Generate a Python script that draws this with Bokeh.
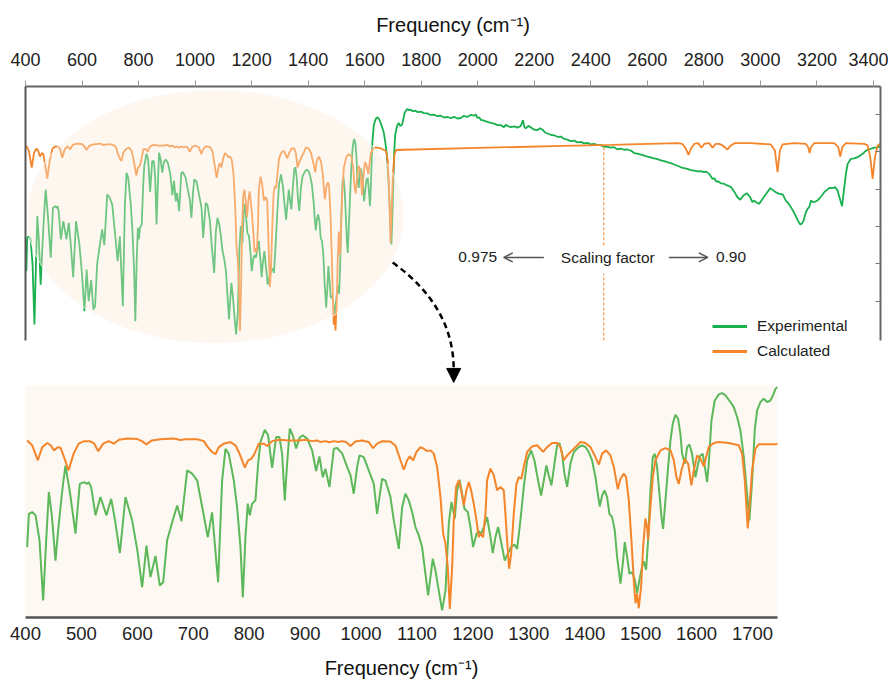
from bokeh.plotting import figure
from bokeh.models import (Range1d, LinearAxis, FixedTicker, Label, Legend, LegendItem,
                          Arrow, NormalHead, OpenHead)
from bokeh.layouts import column
from bokeh.embed import file_html
from bokeh.resources import INLINE

FONT = "Liberation Sans"
GREEN_TOP = "#19b04e"
GREEN_BOT = "#5cb85a"
ORANGE = "#f5852a"

# ---------------- data ----------------
exp_freq = [
    403, 406, 412, 418, 425, 431.6, 437, 441.8, 447, 453.6, 458, 462.6, 467, 471.5, 480, 489.4, 493,
    497.1, 504.3, 510.3, 513.2, 517.4, 525.2, 534, 544.8, 553.2, 560, 568.7, 578.8, 590.7, 600, 608.6,
    616.3, 623.5, 632.4, 640.2, 646.2, 653.3, 662.3, 671.2, 678.9, 689.1, 698, 707, 716, 726, 733.7,
    744.4, 751.6, 757.6, 763.5, 772.5, 778.4, 784.4, 788.6, 793.3, 797.5, 801.1, 805.2, 811.2, 816,
    820.1, 827.9, 833.8, 841, 848.2, 854.1, 858.9, 863.6, 867.8, 872.6, 878, 883.9, 889.9, 895.8,
    903.6, 912.5, 919.7, 925.6, 931.6, 936.4, 943.5, 951.3, 957.2, 966.2, 975.1, 981.1, 987, 993,
    997.2, 1004.9, 1013.8, 1022.8, 1028.7, 1037.7, 1043.6, 1052.6, 1058.6, 1067.5, 1073.5, 1079.4,
    1085.4, 1091.3, 1097.3, 1103.3, 1109.2, 1115.2, 1120, 1124.1, 1128.3, 1133.1, 1139, 1145, 1151,
    1156.9, 1161.7, 1167.6, 1171.8, 1176, 1180.7, 1184.9, 1190.9, 1195.6, 1200.4, 1206.4, 1210.5,
    1214.7, 1219.5, 1225.4, 1231.4, 1235.6, 1240.3, 1245.1, 1251.1, 1257, 1262.4, 1268.4, 1274.3,
    1279.1, 1285, 1291, 1297, 1304.1, 1310.1, 1316.6, 1322, 1326.8, 1331.5, 1335.7, 1340.5, 1345.8,
    1350.6, 1354.8, 1359.5, 1363.7, 1368.5, 1374.4, 1380.4, 1389.4, 1395.3, 1401.3, 1407.2, 1413.2,
    1419.2, 1423.3, 1426.9, 1431.1, 1435.3, 1440, 1444.2, 1449, 1453.7, 1457.9, 1463.9, 1468, 1471.6,
    1475.8, 1480, 1484.7, 1489.5, 1493.7, 1497.8, 1502.6, 1505.6, 1509.8, 1513.3, 1517.5, 1521.7,
    1525.2, 1529.4, 1533.6, 1537.2, 1540.1, 1544.3, 1549.1, 1553.3, 1557.4, 1562.2, 1567, 1571.1,
    1574.1, 1578.9, 1583.1, 1587.2, 1592, 1598, 1602.7, 1606.9, 1611.1, 1615.8, 1618.8, 1621.8,
    1626.6, 1632.5, 1639.7, 1645.6, 1651.6, 1660.5, 1666.5, 1672.5, 1678.4, 1684.4, 1690.3, 1694.5,
    1699.3, 1704, 1708.2, 1714.2, 1720.1, 1726.1, 1732.1, 1738, 1741,
    1751, 1757, 1763, 1770, 1780, 1788, 1798, 1810, 1822, 1833, 1845, 1857, 1869, 1881, 1893, 1905,
    1916, 1928, 1940, 1950, 1963, 1975, 1987, 1993, 1999, 2005, 2011, 2022, 2034, 2046, 2058, 2070,
    2081, 2093, 2099, 2105, 2117, 2129, 2140, 2152, 2160, 2165, 2170, 2179, 2188, 2200, 2211, 2220,
    2229, 2238, 2247, 2258, 2270, 2282, 2294, 2305, 2317, 2329, 2341, 2353, 2365, 2376, 2388, 2400,
    2412, 2424, 2435, 2447, 2459, 2471, 2482, 2494, 2506, 2518, 2530, 2542, 2553, 2565, 2577, 2589,
    2600, 2612, 2624, 2636, 2648, 2660, 2671, 2683, 2695, 2707, 2719, 2730, 2742, 2754, 2766, 2778,
    2789, 2800, 2807, 2819, 2831, 2837, 2843, 2851, 2860, 2869, 2878, 2887, 2896, 2907, 2919, 2929,
    2940, 2952, 2964, 2972, 2978, 2984, 2996, 3008, 3020, 3035, 3049, 3058, 3067, 3079, 3090, 3099,
    3108, 3117, 3126, 3134, 3141, 3147, 3153, 3161, 3167, 3173, 3179, 3185, 3191, 3200, 3208, 3217,
    3226, 3235, 3244, 3255, 3264, 3273, 3283, 3289, 3297, 3303, 3309, 3320, 3332, 3344, 3353, 3362,
    3370, 3379, 3392, 3403, 3414, 3424,
]
exp_val = [
    27.3, 40.4, 41.1, 39.8, 30, 6.3, 30, 49.0, 40, 22.0, 33, 43.0, 52, 59.4, 48, 32.6, 42,
    52.2, 52.9, 52.2, 52.9, 50.9, 39.8, 47.0, 39.8, 46.3, 38, 24.9, 47.0, 37.8, 26, 11.5,
    27.9, 15.5, 23.8, 12.2, 13.5, 30.0, 37.1, 43.7, 37.5, 57.5, 56.2, 53.5, 43.0, 31.2, 41.0,
    13.5, 53.5, 66.0, 64.0, 53.5, 43.0, 27.3, 7.6, 31.2, 44.4, 39.8, 44.4, 45.7, 60.1,
    68.6, 73.5, 71.3, 58.5, 70.6, 70.6, 64.0, 45.7, 60.1, 73.9, 71.3, 66.1, 70.3, 71.3,
    70.0, 65.4, 57.2, 63.0, 54.8, 58.1, 50.9, 66.0, 66.3, 64.2, 58.9, 55.6, 48.3, 58.8,
    63.4, 62.7, 57.5, 52.2, 40.4, 54.2, 53.5, 47.0, 37.8, 26.6, 43.0, 48.3,
    45.7, 41.1, 35.2, 31.9, 27.3, 16.8, 8.3, 15.5, 22.7, 18.1, 10.2, 2.4, 10.2,
    36.5, 45.1, 38.5, 49.6, 53.8, 48.3, 42.4, 41.1, 35.2, 27.3, 32.5, 33.6,
    32.5, 35.2, 39.1, 31.2, 24.9, 31.2, 35.2, 28.6, 22.0, 24.7, 27.3, 28.3,
    26.6, 37.8, 50.9, 61.4, 65.4, 61.4, 53.5, 47.6, 53.5, 59.4, 55.5, 51.6, 60.1,
    67.3, 68.2, 64.0, 56.2, 51.0, 60.1, 64.7, 66.7, 67.3, 66.7, 64.7, 61.4,
    54.8, 48.3, 43.3, 47.6, 49.6, 47.0, 40.4, 39.1, 33.9, 23.4, 12.9, 20.7, 29.3,
    23.4, 16.8, 17.5, 14.4, 9.2, 14.4, 19.7, 21.7, 18.4, 30.0, 49.6, 62.7,
    64.0, 58.8, 48.3, 39.1, 34.5, 45.7, 58.8, 69.3, 75.9, 79.4, 77.8, 71.9,
    64.0, 60.1, 66.7, 67.7, 64.0, 54.8, 60.1, 63.4, 64.0, 57.5, 52.9, 60.1,
    77.2, 85.0, 87.4, 87.9, 87.0, 84.4, 82.4, 78.5, 73.2, 62.7, 48.3, 37.8,
    53.5, 73.2, 81.1, 84.4, 85.7, 84.4, 85.0, 87.7, 89.6,
    91.2, 90.6, 90.9, 90.2, 90.5, 89.9, 90.1, 89.5, 89.4, 88.8, 88.9, 88.3, 88.5, 87.8, 88.0, 87.5,
    88.1, 87.4, 87.6, 88.4, 88.0, 88.8, 88.5, 89.0, 87.6, 87.9, 86.9, 86.6, 86.1, 85.7, 85.4, 84.8,
    84.8, 84.0, 84.9, 84.5, 84.0, 84.3, 83.8, 84.4, 86.7, 84.0, 83.5, 84.5, 83.9, 83.0, 82.8, 83.6,
    83.0, 81.9, 81.5, 81.0, 80.8, 80.2, 80.3, 79.4, 79.1, 78.5, 78.7, 78.0, 78.2, 77.6, 77.8, 77.2,
    77.4, 76.9, 76.9, 76.3, 76.2, 75.9, 76.1, 75.3, 75.5, 75.1, 75.2, 74.8, 73.8, 73.6, 73.2, 72.8,
    72.4, 72.1, 71.7, 71.4, 70.9, 70.6, 70.2, 69.8, 69.3, 68.8, 68.2, 67.9, 67.6, 67.1, 66.9, 66.6,
    66.7, 66.3, 66.5, 65.6, 63.6, 63.9, 62.7, 62.6, 61.9, 61.8, 61.3, 60.9, 60.4, 58.7, 56.4, 55.4,
    57.1, 58.0, 56.4, 54.5, 55.0, 54.5, 53.8, 55.8, 57.7, 60.0, 58.8, 58.2, 57.7, 57.5, 55.1, 54.0,
    52.5, 50.8, 48.8, 47.0, 45.7, 46.0, 47.2, 50.5, 51.8, 52.5, 55.1, 54.6, 54.5, 55.0, 55.8, 57.0,
    58.4, 59.2, 60.1, 60.0, 60.4, 59.1, 55.1, 52.9, 60.4, 66.0, 69.6, 71.5, 71.7, 72.2, 72.8, 73.5,
    74.4, 75.1, 75.5, 75.9, 76.0, 76.4,
]

calc_freq = [
    403, 412, 422, 430, 439, 445, 451, 458, 463, 469, 477, 486, 495, 504, 516, 523, 530, 539, 549,
    558, 567, 582, 600, 609, 616, 626, 641, 665, 677, 686, 707, 719, 726, 733.7, 739.7, 745.6, 754.6,
    766.5, 775.4, 781.4, 787.4, 792.1, 798.1, 804.1, 810, 817.2, 826.1, 832.1, 841, 852.9, 870.8,
    888.7, 900.6, 912.5, 921.5, 927.4, 936.4, 943.5, 951.3, 959, 966.2, 973.3, 981.1, 990, 1001.9,
    1013.8, 1021.6, 1028.7, 1037.7, 1052.6, 1061.5, 1070.5, 1076.4, 1082.4, 1087.2, 1093.1, 1099.1,
    1106.2, 1112.2, 1118.2, 1124.1, 1130.1, 1136.1, 1142, 1146.8, 1150.9, 1155.1, 1158.7, 1162.9,
    1165.8, 1170, 1174.8, 1179, 1183.7, 1188.5, 1192.7, 1196.8, 1201.6, 1206.4, 1210.5, 1213.5,
    1218.3, 1222.5, 1225.4, 1231.4, 1237.4, 1243.3, 1249.3, 1255.2, 1258.2, 1261.2, 1264.8, 1268.4,
    1273.1, 1277.9, 1282.1, 1286.8, 1291, 1297, 1305.9, 1314.8, 1320.8, 1325.6, 1332.7, 1341.7,
    1350.6, 1356.6, 1362.5, 1368.5, 1377.4, 1386.4, 1392.3, 1401.3, 1410.2, 1419.2, 1425.1, 1431.1,
    1438.2, 1446, 1452, 1459.1, 1463.9, 1469.8, 1474, 1478.8, 1483.5, 1487.7, 1490.7, 1493.7, 1496.6,
    1500.8, 1504.4, 1508.6, 1511.5, 1513.3, 1517.5, 1521.7, 1526.4, 1535.4, 1544.3, 1553.3, 1559.2,
    1564, 1568.2, 1572.9, 1578.9, 1584.9, 1590.8, 1595, 1601, 1606.9, 1612.9, 1617, 1621.8, 1630.7,
    1639.7, 1657.6, 1675.4, 1681.4, 1686.2, 1689.1, 1691.5, 1694.5, 1699.3, 1705.2, 1711.2, 1741,
    2000, 2300, 2471, 2707, 2724.5, 2736.3, 2745.7, 2754, 2765.8, 2780, 2791.8, 2801.2, 2818.9,
    2830.7, 2842.5, 2854.3, 2866.1, 2883.8, 2895.6, 2909.8, 2966.4, 3037.2, 3051.4, 3060.8, 3069.1,
    3078.5, 3119.8, 3161.1, 3169.4, 3174.1, 3178.8, 3190.6, 3261.4, 3275.6, 3282.6, 3289.7, 3302.7,
    3367.6, 3379.4, 3388.8, 3397.1, 3405.4, 3414.8, 3424.2,
]
calc_val = [
    76.7, 74.6, 68.1, 73.8, 75.6, 74.6, 72.4, 73.8, 73.4, 69.5, 63.7, 71.0, 75.3, 76.3, 76.3, 75.3,
    72.0, 75.3, 76.4, 75.3, 77.0, 77.5, 77.3, 76.3, 75.0, 76.7, 77.2, 77.5, 76.9, 77.2, 77.2, 76.4,
    73.8, 71.7, 70.7, 73.8, 75.3, 76.0, 74.6, 71.7, 68.1, 64.9, 68.1, 68.8, 71.2, 75.3, 75.3, 74.3,
    76.4, 77.0, 76.7, 76.7, 77.0, 76.4, 76.7, 76.0, 76.4, 75.9, 76.4, 76.0, 76.4, 76.0, 74.3, 76.2,
    76.7, 76.0, 73.4, 75.3, 76.4, 76.2, 74.5, 68.1, 64.0, 68.1, 69.8, 68.1, 71.7, 73.8, 73.1, 72.1,
    72.4, 71.0, 65.2, 52.3, 36.4, 32.1, 21.8, 3.7, 21.8, 42.1, 56.6, 59.4, 55.1, 48.6, 55.1, 58.7,
    55.1, 49.3, 42.1, 34.8, 36.3, 34.8, 44.9, 59.4, 64.5, 61.6, 55.1, 56.5, 55.1, 44.9, 33.4, 21.1,
    27.6, 44.9, 57.9, 60.8, 60.1, 65.2, 71.7, 74.1, 74.6, 73.1, 71.7, 73.8, 75.6, 75.6, 73.8, 68.1,
    70.2, 72.4, 74.5, 76.0, 75.6, 73.8, 69.5, 66.2, 71.0, 72.4, 70.2, 65.2, 55.6, 60.1, 62.3, 60.8,
    50.7, 33.4, 16.0, 6.2, 10.3, 4.0, 13.3, 30.6, 42.9, 39.2, 33.7, 47.8, 60.8, 68.1, 72.4, 73.4,
    72.4, 68.1, 60.8, 57.9, 63.7, 68.8, 66.6, 57.2, 63.7, 70.2, 68.8, 65.5, 69.5, 73.8, 75.6, 76.0,
    75.6, 74.6, 71.0, 59.5, 48.0, 38.6, 48.0, 63.7, 73.1, 75.0, 75.1,
    75.8, 76.6, 77.0, 77.7, 77.4, 75.5, 73.1, 75.5, 77.4, 77.7, 75.9, 77.4, 77.7,
    75.9, 77.4, 77.4, 76.8, 75.2, 76.8, 77.7, 77.7, 77.2, 74.8, 66.3, 74.8,
    77.2, 77.7, 77.4, 76.1, 73.8, 76.1, 77.7, 77.7, 76.1, 72.4, 76.1, 77.7,
    77.4, 76.8, 72.2, 63.6, 72.2, 76.8, 77.4,
]

top_ticks = list(range(400, 3401, 200))
bottom_ticks = list(range(400, 1701, 100))
right_ticks = [15.5, 30.2, 44.9, 59.6, 74.3, 89.0]

x_label = "Frequency (cm\u207b\u00b9)"
series_names = ["Experimental", "Calculated"]

# annotation positions (data units of the upper panel)
scale_freq = 2446
scale_top = 76.4
ann_y = 32.7

# ---------------- upper panel ----------------
p1 = figure(frame_width=855, frame_height=297,
            x_range=Range1d(400, 3425), y_range=Range1d(-16.93, 100),
            x_axis_location="above", output_backend="svg", toolbar_location=None,
            min_border_left=25, min_border_right=8, min_border_top=86, min_border_bottom=0,
            outline_line_color=None, background_fill_color="white")
p1.grid.visible = False

xa = p1.xaxis[0]
xa.ticker = FixedTicker(ticks=top_ticks)
xa.axis_label = x_label
xa.axis_label_text_font = FONT
xa.axis_label_text_font_size = "20px"
xa.axis_label_text_font_style = "normal"
xa.axis_label_text_color = "#111111"
xa.axis_label_standoff = 14
xa.major_label_text_font = FONT
xa.major_label_text_font_size = "18px"
xa.major_label_text_color = "#222222"
xa.major_label_standoff = 15
xa.major_tick_out = 6
xa.major_tick_in = 0
xa.major_tick_line_color = "#999999"
xa.minor_tick_line_color = None
xa.axis_line_color = "#666666"
xa.axis_line_width = 2

ya = p1.yaxis[0]
ya.ticker = FixedTicker(ticks=[])
ya.bounds = (0, 100)
ya.axis_line_color = "#555555"
ya.axis_line_width = 2
ya.major_tick_in = 0
ya.major_tick_out = 0
ya.minor_tick_line_color = None
ya.major_tick_line_color = None
ya.major_label_standoff = 0

ra = LinearAxis(ticker=FixedTicker(ticks=right_ticks), bounds=(0, 100))
ra.axis_line_color = "#666666"
ra.axis_line_width = 2
ra.major_tick_in = 5
ra.major_tick_out = 0
ra.major_tick_line_color = "#777777"
ra.minor_tick_line_color = None
ra.major_label_overrides = {t: "" for t in right_ticks}
ra.major_label_standoff = 0
p1.add_layout(ra, "right")

p1.line(exp_freq, exp_val, color=GREEN_TOP, line_width=1.8)
p1.line(calc_freq, calc_val, color=ORANGE, line_width=1.8)

# highlighted region (ellipse) drawn over the lines
p1.ellipse(x=[1072], y=[48.8], width=1335, height=100,
           fill_color="#f9ebd7", fill_alpha=0.38, line_color="white", line_alpha=0.7, line_width=1)

# scaling-factor divider
p1.segment(x0=[scale_freq, scale_freq], y0=[0, 37.5], x1=[scale_freq, scale_freq], y1=[26.3, scale_top],
           color=ORANGE, line_width=1, line_dash="3 2")

for txt, xx in [("0.975", 2000), ("Scaling factor", 2460), ("0.90", 2896)]:
    p1.add_layout(Label(x=xx, y=ann_y, text=txt, text_align="center", text_baseline="middle",
                        text_font=FONT, text_font_size="15.5px", text_color="#222222"))
p1.add_layout(Arrow(end=OpenHead(size=9, line_color="#555555", line_width=1.5),
                    x_start=2234, y_start=ann_y, x_end=2092, y_end=ann_y,
                    line_color="#555555", line_width=1.5))
p1.add_layout(Arrow(end=OpenHead(size=9, line_color="#555555", line_width=1.5),
                    x_start=2676, y_start=ann_y, x_end=2814, y_end=ann_y,
                    line_color="#555555", line_width=1.5))

# dashed zoom arrow toward the lower panel
p1.quadratic(x0=[1699], y0=[30.7], x1=[1915], y1=[-11.5], cx=[1915], cy=[13.4],
             line_color="black", line_width=2.5, line_dash="6 4")
p1.add_layout(Arrow(end=NormalHead(size=14, fill_color="black", line_color="black"),
                    x_start=1915, y_start=-11.0, x_end=1915, y_end=-16.5,
                    line_alpha=0))

# legend swatches (hidden copies of the series, drawn thicker in the legend)
leg_exp = p1.line(exp_freq, exp_val, color=GREEN_TOP, line_width=3, visible=False)
leg_calc = p1.line(calc_freq, calc_val, color=ORANGE, line_width=3, visible=False)
legend = Legend(items=[LegendItem(label=series_names[0], renderers=[leg_exp]),
                       LegendItem(label=series_names[1], renderers=[leg_calc])],
                location=(687, 22), orientation="vertical",
                glyph_width=35, glyph_height=20, label_height=20, label_standoff=10,
                spacing=5, padding=0, margin=0,
                border_line_color=None, background_fill_alpha=0,
                inactive_fill_alpha=0,
                label_text_font=FONT, label_text_font_size="15.5px", label_text_color="#222222")
p1.add_layout(legend)

# ---------------- lower (zoomed) panel ----------------
p2 = figure(frame_width=752, frame_height=232,
            x_range=Range1d(400, 1744.7), y_range=Range1d(-0.4, 90.9),
            y_axis_location=None, output_backend="svg", toolbar_location=None,
            min_border_left=25, min_border_right=111, min_border_top=2, min_border_bottom=65,
            outline_line_color=None, background_fill_color="#fdf8f1", border_fill_color="white")
p2.extra_y_ranges = {"calc": Range1d(0, 100.5)}
p2.grid.visible = False

xb = p2.xaxis[0]
xb.ticker = FixedTicker(ticks=bottom_ticks)
xb.axis_label = x_label
xb.axis_label_text_font = FONT
xb.axis_label_text_font_size = "20px"
xb.axis_label_text_font_style = "normal"
xb.axis_label_text_color = "#111111"
xb.axis_label_standoff = 14
xb.major_label_text_font = FONT
xb.major_label_text_font_size = "18.5px"
xb.major_label_text_color = "#222222"
xb.major_label_standoff = 9
xb.major_tick_out = 0
xb.major_tick_in = 0
xb.major_tick_line_color = None
xb.minor_tick_line_color = None
xb.axis_line_color = "#555555"
xb.axis_line_width = 2.5

p2.line(exp_freq, exp_val, color=GREEN_BOT, line_width=2)
p2.line(calc_freq, calc_val, color=ORANGE, line_width=2, y_range_name="calc")

layout = column(p1, p2, spacing=0)
open("out.html", "w").write(file_html(layout, INLINE))
